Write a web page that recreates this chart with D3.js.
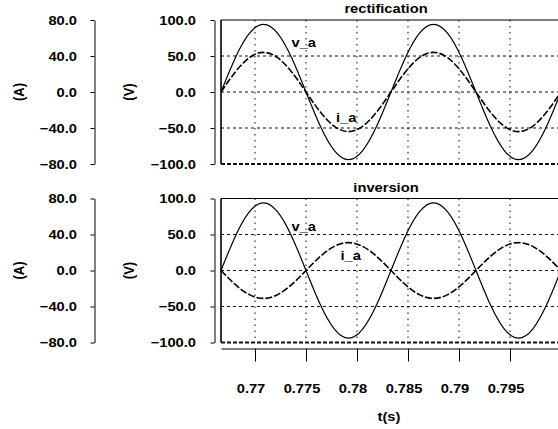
<!DOCTYPE html>
<html>
<head>
<meta charset="utf-8">
<script src="https://cdn.jsdelivr.net/npm/d3@7"></script>
<style>
body { margin: 0; background: #fff; }
svg { display: block; }
</style>
</head>
<body>
<script>
var width = 558, height = 429;
var SX = 1.13; // glyphs in the picture are a little wider than the font

// sample times (s), every 30 degrees of a 60 Hz cycle
var time = [0.766667, 0.768056, 0.769444, 0.770833, 0.772222, 0.773611, 0.775, 0.776389,
  0.777778, 0.779167, 0.780556, 0.781944, 0.783333, 0.784722, 0.786111, 0.7875,
  0.788889, 0.790278, 0.791667, 0.793056, 0.794444, 0.795833, 0.797222, 0.798611, 0.8];

// rectification (V, A)
var vaRect = [0, 47, 81.4, 94, 81.4, 47, 0, -47, -81.4, -94, -81.4, -47,
  0, 47, 81.4, 94, 81.4, 47, 0, -47, -81.4, -94, -81.4, -47, 0];
var iaRect = [0, 22, 38.1, 44, 38.1, 22, 0, -22, -38.1, -44, -38.1, -22,
  0, 22, 38.1, 44, 38.1, 22, 0, -22, -38.1, -44, -38.1, -22, 0];

// inversion (V, A)
var vaInv = [0, 47, 81.4, 94, 81.4, 47, 0, -47, -81.4, -94, -81.4, -47,
  0, 47, 81.4, 94, 81.4, 47, 0, -47, -81.4, -94, -81.4, -47, 0];
var iaInv = [0, -15.5, -26.8, -31, -26.8, -15.5, 0, 15.5, 26.8, 31, 26.8, 15.5,
  0, -15.5, -26.8, -31, -26.8, -15.5, 0, 15.5, 26.8, 31, 26.8, 15.5, 0];

var xTicks = [0.77, 0.775, 0.78, 0.785, 0.79, 0.795];
var xTickLabels = ["0.77", "0.775", "0.78", "0.785", "0.79", "0.795"];
var vTicks = [100, 50, 0, -50, -100];
var vTickLabels = ["100.0", "50.0", "0.0", "\u221250.0", "\u2212100.0"];
var aTicks = [80, 40, 0, -40, -80];
var aTickLabels = ["80.0", "40.0", "0.0", "\u221240.0", "\u221280.0"];
var gridV = [50, 0, -50];
var titles = ["rectification", "inversion"];

var font = "'Liberation Sans', Arial, Helvetica, sans-serif";

var svg = d3.select("body").append("svg")
  .attr("width", width)
  .attr("height", height)
  .style("font-family", font)
  .style("font-weight", "bold");

var x = d3.scaleLinear().domain([0.766667, 0.8]).range([221, 561]);

var panels = [
  {title: titles[0], top: 20, v: vaRect, i: iaRect, vLab: [291.5, 46.7], iLab: [336, 121.7]},
  {title: titles[1], top: 198.5, v: vaInv, i: iaInv, vLab: [291.5, 231], iLab: [340.5, 260]}
];

function styleAxisText(g, dx, dy, anchor) {
  g.attr("font-family", font).attr("font-size", 13).attr("font-weight", "bold");
  g.selectAll(".tick text")
    .attr("x", null).attr("y", null)
    .attr("fill", "#000")
    .attr("text-anchor", anchor)
    .attr("transform", "translate(" + dx + "," + dy + ") scale(" + SX + ",1)");
}

panels.forEach(function (p) {
  var bottom = p.top + 144;
  var yV = d3.scaleLinear().domain([-100, 100]).range([bottom, p.top]);
  var yA = d3.scaleLinear().domain([-80, 80]).range([bottom, p.top]);
  var g = svg.append("g");

  // vertical grid
  g.selectAll(".vgrid").data(xTicks).enter().append("line")
    .attr("x1", function (d) { return x(d); })
    .attr("x2", function (d) { return x(d); })
    .attr("y1", p.top).attr("y2", bottom)
    .attr("stroke", "#333").attr("stroke-width", 1.2)
    .attr("stroke-dasharray", "1.5,4.5");

  // horizontal grid
  g.selectAll(".hgrid").data(gridV).enter().append("line")
    .attr("x1", x.range()[0]).attr("x2", x.range()[1])
    .attr("y1", function (d) { return yV(d); })
    .attr("y2", function (d) { return yV(d); })
    .attr("stroke", "#111").attr("stroke-width", 1.2)
    .attr("stroke-dasharray", "3,3");

  // frame: solid top/left, heavy dashed bottom
  g.append("line")
    .attr("x1", x.range()[0]).attr("x2", x.range()[1])
    .attr("y1", yV(100)).attr("y2", yV(100))
    .attr("stroke", "#000").attr("stroke-width", 1);
  g.append("line")
    .attr("x1", x.range()[0]).attr("x2", x.range()[0])
    .attr("y1", p.top).attr("y2", bottom)
    .attr("stroke", "#000").attr("stroke-width", 1.6);
  g.append("line")
    .attr("x1", x.range()[0]).attr("x2", x.range()[1])
    .attr("y1", yV(-100)).attr("y2", yV(-100))
    .attr("stroke", "#111").attr("stroke-width", 2)
    .attr("stroke-dasharray", "4,2");

  // curves
  var lineV = d3.line()
    .x(function (d, k) { return x(time[k]); })
    .y(function (d) { return yV(d); })
    .curve(d3.curveNatural);
  var lineA = d3.line()
    .x(function (d, k) { return x(time[k]); })
    .y(function (d) { return yA(d); })
    .curve(d3.curveNatural);

  g.append("path").datum(p.v)
    .attr("d", lineV)
    .attr("fill", "none").attr("stroke", "#000").attr("stroke-width", 1.2);
  g.append("path").datum(p.i)
    .attr("d", lineA)
    .attr("fill", "none").attr("stroke", "#000").attr("stroke-width", 1.6)
    .attr("stroke-dasharray", "7,2");

  // y axes
  var axV = svg.append("g").attr("transform", "translate(214.5,0)")
    .call(d3.axisLeft(yV).tickValues(vTicks).tickSize(4).tickSizeOuter(0)
      .tickFormat(function (d, k) { return vTickLabels[k]; }));
  styleAxisText(axV, -18.5, 0, "end");
  axV.selectAll("text").attr("dy", "0.34em");

  var axA = svg.append("g").attr("transform", "translate(94.5,0)")
    .call(d3.axisLeft(yA).tickValues(aTicks).tickSize(4).tickSizeOuter(0)
      .tickFormat(function (d, k) { return aTickLabels[k]; }));
  styleAxisText(axA, -17.5, 0, "end");
  axA.selectAll("text").attr("dy", "0.34em");

  var mid = (p.top + bottom) / 2;
  svg.append("text")
    .attr("transform", "translate(24,"  + mid + ") scale(" + SX + ",1) rotate(-90)")
    .attr("text-anchor", "middle").attr("font-size", 13)
    .text("(A)");
  svg.append("text")
    .attr("transform", "translate(133.5," + mid + ") scale(" + SX + ",1) rotate(-90)")
    .attr("text-anchor", "middle").attr("font-size", 13)
    .text("(V)");

  // title and curve labels
  svg.append("text")
    .attr("transform", "translate(386," + (p.top - 7) + ") scale(" + SX + ",1)")
    .attr("text-anchor", "middle").attr("font-size", 13)
    .text(p.title);
  svg.append("text")
    .attr("transform", "translate(" + p.vLab[0] + "," + p.vLab[1] + ") scale(" + SX + ",1)")
    .attr("font-size", 13).text("v_a");
  svg.append("text")
    .attr("transform", "translate(" + p.iLab[0] + "," + p.iLab[1] + ") scale(" + SX + ",1)")
    .attr("font-size", 13).text("i_a");
});

// x axis
var axX = svg.append("g").attr("transform", "translate(0,348.5)")
  .call(d3.axisBottom(x).tickValues(xTicks).tickSize(13).tickSizeOuter(0)
    .tickFormat(function (d, k) { return xTickLabels[k]; }));
styleAxisText(axX, -4.5, 44, "middle");
axX.selectAll("text").attr("dy", null);

svg.append("text")
  .attr("transform", "translate(389,421) scale(" + SX + ",1)")
  .attr("text-anchor", "middle").attr("font-size", 13)
  .text("t(s)");
</script>
</body>
</html>
